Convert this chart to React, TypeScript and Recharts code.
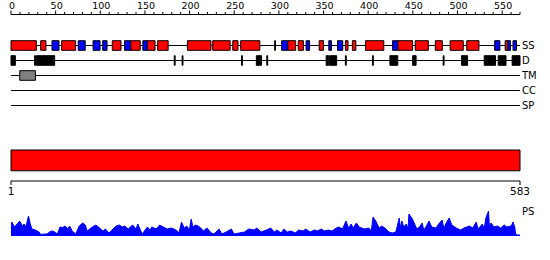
import React from 'react';
import { ComposedChart, XAxis, YAxis, ReferenceArea, Area } from 'recharts';

const FONT = 'DejaVu Sans, Verdana, sans-serif';

// ---- data ----
const seqLength = 583;
const rowNames = ['SS', 'D', 'TM', 'CC', 'SP'];
const rulerTicks = [0, 10, 20, 30, 40, 50, 60, 70, 80, 90, 100, 110, 120, 130, 140, 150, 160, 170, 180, 190, 200, 210, 220, 230, 240, 250, 260, 270, 280, 290, 300, 310, 320, 330, 340, 350, 360, 370, 380, 390, 400, 410, 420, 430, 440, 450, 460, 470, 480, 490, 500, 510, 520, 530, 540, 550, 560, 570];
const axisTicks = [1, 583];

const ssHelix = [[0, 29], [34, 40], [58, 74], [116, 126], [137, 148], [156, 165], [168, 180], [202, 229], [231, 251], [254, 260], [263, 285], [317, 326], [329, 335], [353, 358], [383, 386], [391, 395], [406, 427], [443, 460], [463, 478], [486, 494], [503, 518], [522, 536], [566, 569]];
const ssStrand = [[47, 55], [77, 85], [94, 102], [105, 110], [130, 137], [151, 156], [310, 317], [338, 342], [364, 367], [374, 380], [437, 443], [554, 560], [569, 572], [575, 579]];
const ssOther = [[302, 303]];
const disorder = [[0, 5], [27, 28], [29, 50], [187, 188], [196, 197], [264, 265], [281, 287], [293, 294], [361, 364], [365, 373], [383, 384], [414, 415], [434, 443], [460, 464], [495, 496], [516, 523], [542, 555], [558, 567], [574, 583]];
const transmembrane = [[10, 28]];
const coiledCoil: number[][] = [];
const signalPeptide: number[][] = [];
const domainBar = [[1, 583]];

const psResidues = [1, 2, 5, 7, 11, 14, 16, 18, 21, 23, 25, 29, 33, 35, 39, 42, 47, 50, 54, 57, 60, 63, 66, 68, 71, 75, 79, 83, 86, 88, 94, 98, 101, 106, 109, 113, 121, 125, 128, 131, 135, 140, 144, 146, 149, 151, 157, 160, 162, 167, 171, 175, 180, 184, 190, 193, 196, 199, 202, 205, 207, 209, 212, 215, 218, 221, 225, 230, 233, 239, 242, 247, 253, 256, 262, 268, 273, 279, 282, 287, 293, 298, 302, 305, 310, 313, 317, 321, 326, 330, 335, 338, 343, 348, 351, 356, 359, 364, 368, 373, 376, 380, 384, 387, 390, 392, 396, 399, 405, 410, 413, 415, 418, 422, 425, 430, 433, 437, 441, 445, 446, 448, 450, 453, 455, 456, 460, 462, 465, 468, 471, 473, 476, 479, 482, 487, 490, 494, 496, 498, 502, 505, 510, 515, 519, 525, 529, 533, 535, 537, 540, 542, 544, 547, 548, 550, 553, 557, 561, 565, 568, 573, 575, 577, 578, 580, 583];
const psValues = [10, 14, 9, 11, 15, 10, 12, 9, 20, 12, 7, 6, 4, 1.5, 2, 2, 5, 4.5, 2, 9, 8.5, 10, 7, 10, 5, 2, 10, 13, 11, 5, 9, 11, 9, 5, 7, 3, 10, 11, 9, 10, 7, 11, 7, 12, 6, 2, 9, 6, 9, 7, 11, 9, 7, 8, 6, 3, 14, 8, 10, 6, 17, 9, 11, 10, 8, 5, 8, 3, 2, 7, 2, 4, 7, 2, 3, 4, 7, 6, 8, 4, 6, 8, 4, 6, 3, 7, 4, 5, 3, 6, 5, 7, 4, 6, 5, 7, 5, 6, 5, 8, 9, 7, 15, 8, 12, 8, 13, 9, 7, 8, 5, 19, 15, 8, 10, 7, 4, 3, 4, 18, 8, 15, 9, 12, 7, 22, 17, 13, 7, 9, 13, 6, 10, 15, 9, 8, 12, 16, 7, 12, 18, 11, 8, 6, 8, 10, 8, 14, 7, 9, 12, 7, 18, 25, 10, 13, 9, 10, 8, 11, 9, 10, 14, 9, 2, 1, 1];

const psData = psResidues.map((r, i) => ({ r, v: psValues[i] }));
const rulerData = rulerTicks.map((t) => ({ t }));

type RowDef = { row: number; segs: number[][]; fill: string };
const rowSegments: RowDef[] = [
  { row: 0, segs: ssHelix, fill: '#ff0000' },
  { row: 0, segs: ssStrand, fill: '#0000ff' },
  { row: 0, segs: ssOther, fill: '#000000' },
  { row: 1, segs: disorder, fill: '#000000' },
  { row: 2, segs: transmembrane, fill: '#808080' },
  { row: 3, segs: coiledCoil, fill: '#808080' },
  { row: 4, segs: signalPeptide, fill: '#808080' },
];
const rowData = rowNames.map((n, i) => ({ x: 0, y: i }));

const RulerTick = (props: any) => {
  const { x, y, payload } = props;
  const v = payload.value;
  const major = v % 50 === 0;
  return (
    <g>
      <line x1={x} x2={x} y1={y} y2={y - (major ? 4 : 2.5)} stroke="#000" strokeWidth={1} />
      {major && (
        <text x={x + 1} y={y - 5.5} textAnchor="middle" fontSize={9.5} fontFamily={FONT} fill="#000">
          {v}
        </text>
      )}
    </g>
  );
};

const abs = (top: number): React.CSSProperties => ({ position: 'absolute', left: 0, top });

export default function App() {
  return (
    <div style={{ position: 'absolute', left: 0, top: 0, width: 550, height: 260, background: '#fff', overflow: 'hidden' }}>
      {/* ruler */}
      <div style={abs(0)}>
        <ComposedChart width={550} height={20} data={rulerData} margin={{ top: 0, right: 30, bottom: 0, left: 11 }}>
          <XAxis
            dataKey="t"
            type="number"
            orientation="top"
            domain={[0, 570]}
            ticks={rulerTicks}
            interval={0}
            height={14.5}
            tickSize={0}
            tickMargin={0}
            tickLine={false}
            tick={<RulerTick />}
            axisLine={{ stroke: '#000' }}
            allowDataOverflow
          />
        </ComposedChart>
      </div>

      {/* feature rows */}
      <div style={abs(38)}>
        <ComposedChart width={550} height={75} data={rowData} margin={{ top: 0, right: 0, bottom: 0, left: 11 }}>
          <XAxis dataKey="x" type="number" domain={[0, seqLength]} hide allowDataOverflow />
          <YAxis
            dataKey="y"
            type="number"
            orientation="right"
            domain={[-0.5, 4.5]}
            reversed
            ticks={[0, 1, 2, 3, 4]}
            interval={0}
            tickFormatter={(i: number) => rowNames[i]}
            width={30}
            axisLine={false}
            tickLine={false}
            tickSize={0}
            tickMargin={2}
            tick={{ fill: '#000', fontSize: 10, fontFamily: FONT }}
            allowDataOverflow
          />
          {rowNames.map((n, i) => (
            <ReferenceArea key={'line' + n} x1={0} x2={seqLength} y1={i - 1 / 30} y2={i + 1 / 30} fill="#000" fillOpacity={1} stroke="none" ifOverflow="visible" />
          ))}
          {rowSegments.flatMap((def, k) =>
            def.segs.map((s, j) => (
              <ReferenceArea
                key={`seg${k}-${j}`}
                x1={s[0]}
                x2={s[1]}
                y1={def.row - 0.32}
                y2={def.row + 0.32}
                fill={def.fill}
                fillOpacity={1}
                stroke="#000"
                strokeWidth={1}
                ifOverflow="visible"
              />
            ))
          )}
        </ComposedChart>
      </div>

      {/* domain bar + sequence axis */}
      <div style={abs(145)}>
        <ComposedChart width={550} height={66} data={domainBar.map((d) => ({ s: d[0], e: d[1] }))} margin={{ top: 5, right: 30, bottom: 0, left: 11 }}>
          <XAxis
            dataKey="s"
            type="number"
            domain={[1, seqLength]}
            ticks={axisTicks}
            interval={0}
            height={30}
            tickSize={4}
            tickMargin={3}
            axisLine={{ stroke: '#000' }}
            tickLine={{ stroke: '#000' }}
            tick={{ fill: '#000', fontSize: 10.5, fontFamily: FONT }}
            allowDataOverflow
          />
          <YAxis type="number" domain={[0, 1]} hide allowDataOverflow />
          {domainBar.map((d, i) => (
            <ReferenceArea key={'dom' + i} x1={d[0]} x2={d[1]} y1={0.33} y2={1} fill="#ff0000" fillOpacity={1} stroke="#000" strokeWidth={1} ifOverflow="visible" />
          ))}
        </ComposedChart>
      </div>

      {/* PS profile */}
      <div style={abs(205)}>
        <ComposedChart width={550} height={31} data={psData} margin={{ top: 0, right: 0, bottom: 0, left: 11 }}>
          <XAxis dataKey="r" type="number" domain={[1, seqLength]} hide allowDataOverflow />
          <YAxis
            type="number"
            orientation="right"
            domain={[0, 31]}
            ticks={[25]}
            interval={0}
            tickFormatter={() => 'PS'}
            width={30}
            axisLine={false}
            tickLine={false}
            tickSize={0}
            tickMargin={2}
            tick={{ fill: '#000', fontSize: 10, fontFamily: FONT }}
            allowDataOverflow
          />
          <Area type="linear" dataKey="v" stroke="#0000ff" strokeWidth={1} fill="#0000ff" fillOpacity={1} dot={false} activeDot={false} isAnimationActive={false} />
        </ComposedChart>
      </div>
    </div>
  );
}
